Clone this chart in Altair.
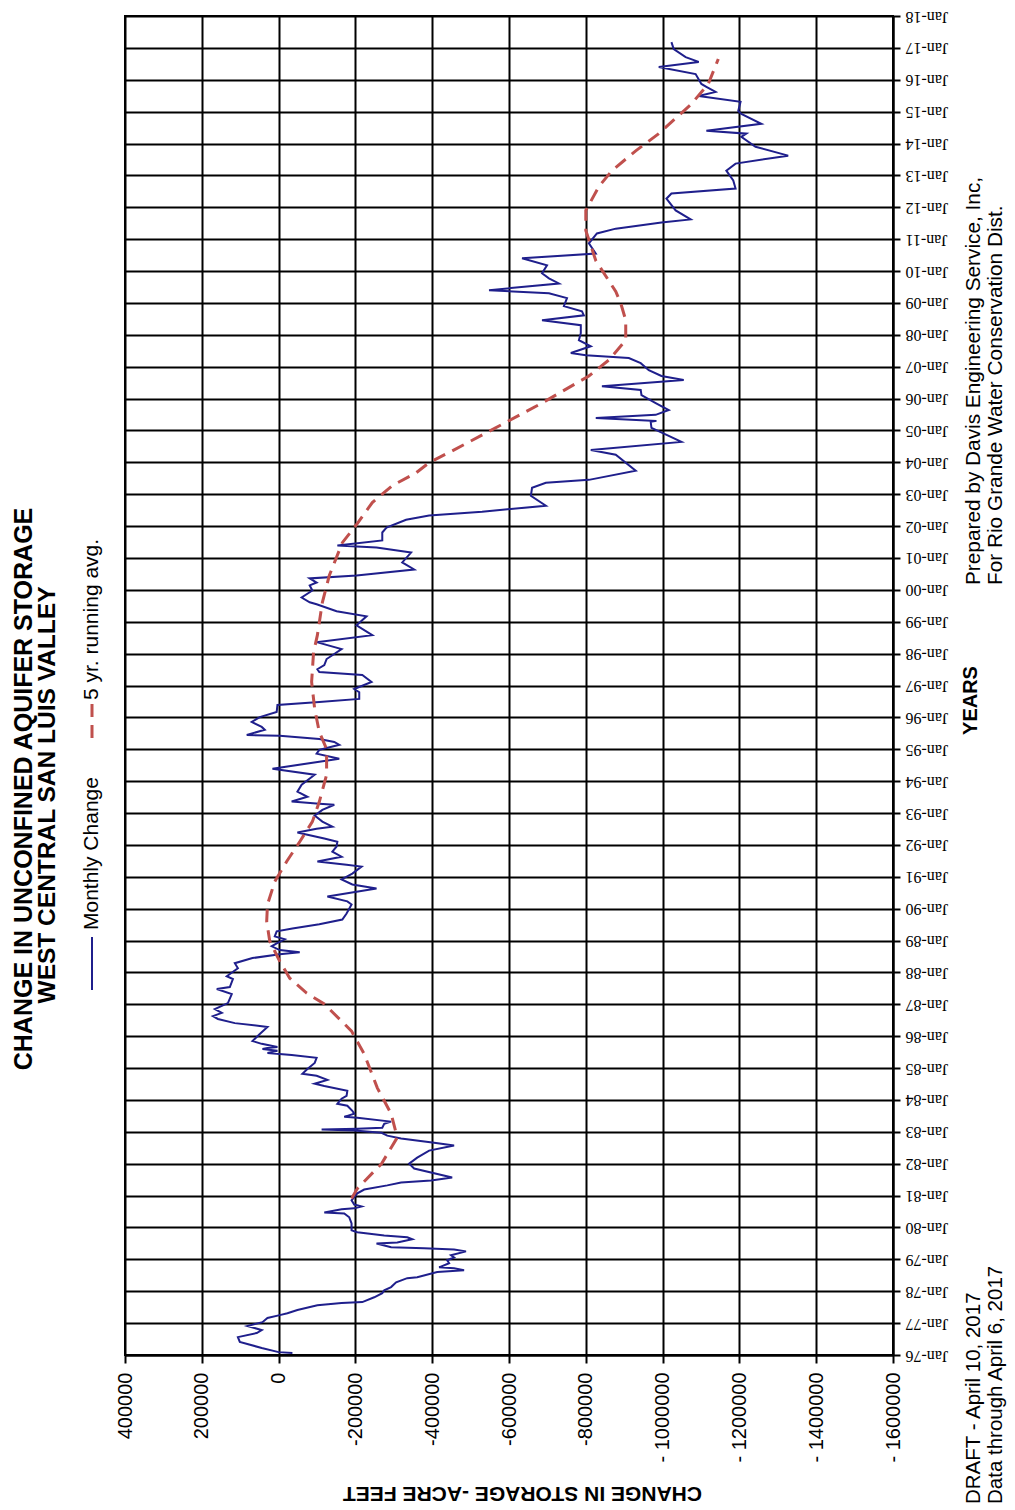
import altair as alt
import pandas as pd

# ---------------- data ----------------
monthly_year = [
    1976.06, 1976.09, 1976.22, 1976.41, 1976.56, 1976.69, 1976.78, 1976.91,
    1977.03, 1977.16, 1977.25, 1977.31, 1977.41, 1977.56, 1977.63, 1977.66, 1977.81, 1977.94,
    1978.03, 1978.13, 1978.28, 1978.41, 1978.44, 1978.60, 1978.66, 1978.72, 1978.75, 1978.88, 1978.97,
    1979.06, 1979.13, 1979.25, 1979.31, 1979.35, 1979.38, 1979.50, 1979.53, 1979.63, 1979.69, 1979.75, 1979.85, 1979.91,
    1980.13, 1980.32, 1980.44, 1980.47, 1980.57, 1980.60, 1980.66, 1980.72, 1980.85,
    1981.07, 1981.19, 1981.32, 1981.41, 1981.47,
    1981.57, 1981.85,
    1982.00, 1982.19, 1982.41, 1982.57, 1982.66, 1982.79, 1982.88, 1982.97,
    1983.04, 1983.07, 1983.10, 1983.13, 1983.25, 1983.32, 1983.44, 1983.47, 1983.57, 1983.66, 1983.82, 1983.88,
    1984.04, 1984.13, 1984.29, 1984.44, 1984.51, 1984.63, 1984.76, 1984.82, 1984.97,
    1985.16, 1985.32, 1985.41, 1985.47, 1985.54, 1985.60, 1985.63, 1985.66, 1985.76, 1985.85,
    1986.07, 1986.29, 1986.41, 1986.54, 1986.63, 1986.73, 1986.85,
    1987.04,
    1987.32, 1987.48, 1987.54, 1987.79, 1987.88,
    1988.13, 1988.29, 1988.45, 1988.57, 1988.63, 1988.70, 1988.82, 1988.91,
    1989.04, 1989.13, 1989.29, 1989.38, 1989.51, 1989.66, 1989.85,
    1990.13, 1990.23, 1990.38, 1990.63, 1990.76, 1990.92,
    1991.10, 1991.32, 1991.38, 1991.48, 1991.63, 1991.79, 1991.95,
    1992.10, 1992.20, 1992.39, 1992.51, 1992.57,
    1992.73, 1992.92,
    1993.10, 1993.26, 1993.29, 1993.36, 1993.51, 1993.67, 1993.89,
    1994.20, 1994.39, 1994.61, 1994.70, 1994.86, 1994.98,
    1995.14, 1995.23, 1995.32, 1995.42, 1995.45, 1995.61, 1995.70, 1995.86,
    1996.01, 1996.17, 1996.39, 1996.48, 1996.58, 1996.79, 1996.89,
    1997.11, 1997.33, 1997.42, 1997.51, 1997.64, 1997.83, 1997.95,
    1998.14,
    1998.36, 1998.58, 1998.89,
    1999.17, 1999.33, 1999.55, 1999.61, 1999.76, 1999.98,
    2000.14, 2000.23, 2000.36, 2000.45, 2000.64, 2000.86,
    2001.17, 2001.33, 2001.39, 2001.55, 2001.80, 2001.95,
    2002.20, 2002.33, 2002.45, 2002.64, 2002.95,
    2003.20, 2003.36, 2003.45,
    2003.74,
    2004.24, 2004.39, 2004.64, 2004.83,
    2005.08, 2005.27, 2005.30, 2005.39, 2005.49, 2005.64, 2005.86,
    2006.11, 2006.27, 2006.39, 2006.58, 2006.71, 2006.89,
    2007.11, 2007.27, 2007.36, 2007.43, 2007.64, 2007.83,
    2008.05, 2008.30, 2008.46, 2008.61, 2008.74, 2008.90,
    2009.15, 2009.30, 2009.40,
    2009.61, 2009.77, 2009.93,
    2010.18, 2010.40, 2010.55, 2010.87,
    2011.18, 2011.33, 2011.52, 2011.62, 2011.90,
    2012.27, 2012.43, 2012.59, 2012.84,
    2013.15, 2013.37, 2013.62, 2013.90,
    2014.21, 2014.31, 2014.40, 2014.62, 2014.93,
    2015.02, 2015.31, 2015.49, 2015.62, 2015.78, 2015.87,
    2016.18, 2016.40, 2016.56, 2016.71, 2016.96,
    2017.18,
]

monthly_change_k = [
    -36, 0, 44, 101, 106, 57, 44, 81,
    42, 29, -3, -23, -49, -101, -164, -218, -249, -270,
    -275, -293, -306, -335, -361, -413, -483, -457, -418, -444, -439,
    -457, -449, -488, -457, -379, -293, -255, -309, -348, -335, -275, -205, -190,
    -190, -184, -171, -119, -164, -197, -216, -197, -190,
    -205, -223, -283, -319, -397,
    -452, -353,
    -340, -361, -392, -457, -405, -319, -283, -268,
    -197, -112, -205, -270, -275, -293, -205, -171, -197, -192, -179, -153,
    -164, -177, -179, -119, -94, -127, -99, -62, -75,
    -94, -99, -34, 29, 3, 42, 29, 3, 44, 68,
    49, 29, 114, 158, 171, 148, 166,
    132,
    122, 161, 127, 119, 135,
    106, 114, 68, -3, -55, -3, 18, 5,
    -16, 10, 5, -36, -106, -166, -177,
    -190, -179, -127, -255, -192, -164,
    -192, -216, -177, -101, -164, -140, -151,
    -153, -119, -49, -99, -140,
    -114, -94,
    -114, -145, -106, -34, -75, -49, -60,
    -94, 16, -106, -158, -99, -106,
    -158, -145, -106, -3, 83, 36, 44, 70,
    49, 5, 3, -106, -210, -210, -197,
    -242, -218, -106, -101, -119, -125, -140,
    -164,
    -99, -244, -203,
    -229, -151, -99, -81, -60, -88,
    -81, -99, -81, -203, -353, -322,
    -345, -255, -153, -270, -270, -281,
    -332, -392, -530, -696, -657,
    -660, -696, -808,
    -930,
    -878, -813, -1049, -1016,
    -971, -969, -984, -826, -982, -1016, -982,
    -945, -943, -842, -1055, -997, -964,
    -943, -912, -800, -761, -813, -782,
    -787, -787, -686, -795, -790, -743,
    -751, -704, -548,
    -730, -704, -686,
    -699, -634, -826, -808,
    -829, -878, -997, -1073, -1034,
    -1010, -1023, -1190, -1184,
    -1166, -1190, -1327, -1242,
    -1205, -1218, -1114, -1257, -1205,
    -1197, -1203, -1094, -1138, -1114, -1101,
    -1086, -990, -1094, -1060, -1029,
    -1023,
]

avg_year = [
    1980.91, 1981.22, 1982.00, 1982.82, 1983.57, 1984.38, 1985.44, 1986.16, 1987.01, 1987.35,
    1987.82, 1988.35, 1988.98, 1989.60, 1990.13, 1990.85, 1991.48, 1992.10, 1992.73, 1993.35,
    1994.20, 1995.01, 1995.54, 1996.26, 1997.11, 1998.04, 1998.58, 1999.61, 2000.45, 2001.48,
    2002.05, 2002.74, 2003.27, 2003.67, 2003.99, 2004.36, 2005.14, 2005.86, 2006.71, 2007.21,
    2007.83, 2008.46, 2008.99, 2009.36, 2010.33, 2011.27, 2011.90, 2012.65, 2013.15, 2013.77,
    2014.31, 2015.24, 2015.87, 2016.65,
]
avg_change_k = [
    -190, -205, -268, -309, -293, -257, -223, -190, -119, -73,
    -29, -3, 23, 31, 29, 10, -21, -55, -88, -106,
    -125, -125, -106, -94, -86, -91, -101, -114, -132, -166,
    -203, -244, -296, -358, -392, -452, -574, -686, -808, -860,
    -904, -904, -891, -878, -826, -800, -800, -834, -868, -930,
    -990, -1075, -1119, -1145,
]

storage_ticks = [400000, 200000, 0, -200000, -400000, -600000, -800000,
                 -1000000, -1200000, -1400000, -1600000]
year_ticks = list(range(1976, 2019))

title_lines = ["CHANGE IN UNCONFINED AQUIFER  STORAGE", "WEST CENTRAL SAN LUIS VALLEY"]
legend_labels = ["Monthly Change", "5 yr. running avg."]
x_title = "CHANGE IN STORAGE -ACRE FEET"
y_title = "YEARS"
note_draft = ["DRAFT - April 10, 2017", "Data through April 6, 2017"]
note_prepared = ["Prepared by Davis Engineering Service, Inc,",
                 "For Rio Grande Water Conservation Dist."]

monthly = pd.DataFrame({"year": monthly_year,
                        "change": [v * 1000 for v in monthly_change_k]})
avg = pd.DataFrame({"year": avg_year,
                    "change": [v * 1000 for v in avg_change_k]})

# ---------------- styling ----------------
FONT = "Liberation Sans"
NAVY = "#1f1f8c"
RED = "#c0504d"
W, H = 768, 1339
TOP = 8

x_enc = alt.X(
    "change:Q",
    scale=alt.Scale(domain=[400000, -1600000], nice=False, zero=False),
    axis=alt.Axis(
        orient="bottom", values=storage_ticks,
        labelExpr="datum.value <= -1000000 ? '- ' + toString(-datum.value) : toString(datum.value)",
        labelAngle=270, labelAlign="right", labelBaseline="middle",
        labelFont=FONT, labelFontSize=20, labelColor="black",
        labelPadding=9, labelFlush=False, labelOverlap=False, labelBound=False,
        tickSize=8, tickColor="black", tickWidth=2,
        domainColor="black", domainWidth=2,
        grid=True, gridColor="black", gridWidth=2, gridOpacity=1,
        title=x_title, titleAngle=180, titleFont=FONT, titleFontSize=21,
        titleFontWeight="bold", titleColor="black",
        titleX=397, titleY=137, titleAlign="center", titleBaseline="middle",
    ),
)
y_enc = alt.Y(
    "year:Q",
    scale=alt.Scale(domain=[1976, 2018], nice=False, zero=False),
    axis=alt.Axis(
        orient="right", values=year_ticks,
        labelExpr="'Jan-' + slice(toString(datum.value), 2)",
        labelAngle=180, labelAlign="right", labelBaseline="middle",
        labelFont="Liberation Serif", labelFontSize=16, labelColor="black",
        labelPadding=5, labelFlush=False, labelOverlap=False, labelBound=False,
        tickSize=7, tickColor="black", tickWidth=2,
        domainColor="black", domainWidth=2,
        grid=True, gridColor="black", gridWidth=2, gridOpacity=1,
        title=y_title, titleAngle=270, titleFont=FONT, titleFontSize=20,
        titleFontWeight="bold", titleColor="black",
        titleX=77, titleY=700 - 8 - TOP, titleAlign="center", titleBaseline="middle",
    ),
)

monthly_line = alt.Chart(monthly).mark_line(color=NAVY, strokeWidth=2).encode(
    x=x_enc, y=y_enc, order="year:Q")
avg_line = alt.Chart(avg).mark_line(color=RED, strokeWidth=3, strokeDash=[13, 8]).encode(
    x=x_enc, y=y_enc, order="year:Q")


def py(page_y):
    return page_y - 8 - TOP


def rotated_text(text, px, page_y, size, weight="normal", align="center"):
    return alt.Chart(pd.DataFrame({"t": [text]})).mark_text(
        angle=270, align=align, baseline="middle", font=FONT, fontSize=size,
        fontWeight=weight, color="black"
    ).encode(x=alt.value(px), y=alt.value(py(page_y)), text="t:N")


layers = [monthly_line, avg_line]
# title
layers.append(rotated_text(title_lines[0], -101, 789, 25, "bold"))
layers.append(rotated_text(title_lines[1], -77, 795, 24.5, "bold"))
# legend
layers.append(alt.Chart(pd.DataFrame({"k": [0]})).mark_rule(color=NAVY, strokeWidth=2).encode(
    x=alt.value(-33), y=alt.value(py(937)), y2=alt.value(py(990))))
layers.append(alt.Chart(pd.DataFrame({"k": [0]})).mark_rule(color=RED, strokeWidth=3, strokeDash=[13, 8]).encode(
    x=alt.value(-33), y=alt.value(py(704)), y2=alt.value(py(740))))
layers.append(rotated_text(legend_labels[0], -33, 930, 21, align="left"))
layers.append(rotated_text(legend_labels[1], -33, 700, 21, align="left"))
# notes
layers.append(rotated_text(note_draft[0], 849, 1504, 20.5, align="left"))
layers.append(rotated_text(note_draft[1], 871, 1504, 20.5, align="left"))
layers.append(rotated_text(note_prepared[0], 849, 585, 20.8, align="left"))
layers.append(rotated_text(note_prepared[1], 871, 585, 20.8, align="left"))

chart = alt.layer(*layers).properties(
    width=W, height=H,
    padding={"left": 117, "top": TOP, "right": 114, "bottom": 153},
    autosize=alt.AutoSizeParams(type="none"),
    background="white",
).configure_view(stroke="black", strokeWidth=2)

chart.save("out.html", embed_options={"renderer": "svg", "actions": False})
